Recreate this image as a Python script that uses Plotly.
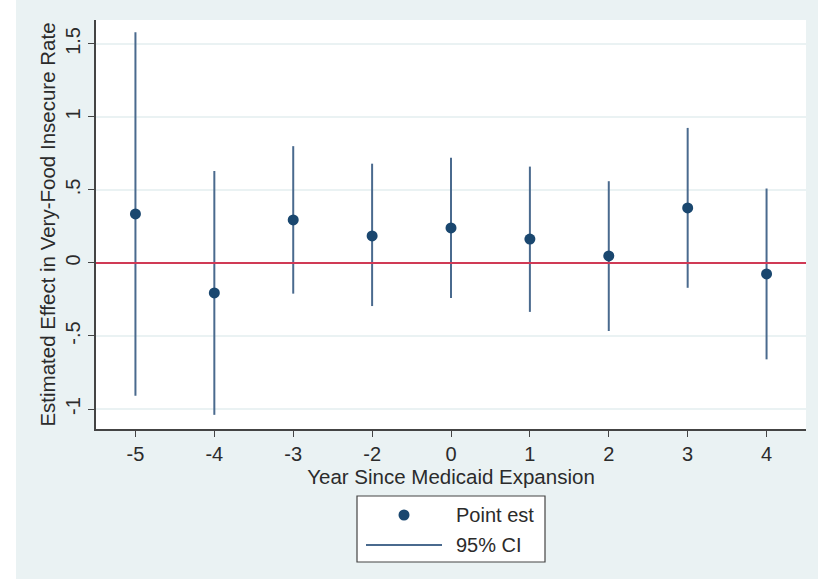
import plotly.graph_objects as go

years = ["-5", "-4", "-3", "-2", "0", "1", "2", "3", "4"]
point_est = [0.336, -0.205, 0.295, 0.185, 0.240, 0.164, 0.048, 0.377, -0.075]
ci_low = [-0.91, -1.04, -0.21, -0.295, -0.24, -0.335, -0.466, -0.17, -0.66]
ci_high = [1.58, 0.63, 0.80, 0.68, 0.72, 0.66, 0.56, 0.925, 0.51]

ytick_vals = [-1, -0.5, 0, 0.5, 1, 1.5]
ytick_text = ["-1", "-.5", "0", ".5", "1", "1.5"]

legend_labels = ["Point est", "95% CI"]
x_title = "Year Since Medicaid Expansion"
y_title = "Estimated Effect in Very-Food Insecure Rate"

NAVY = "#1A476F"
CI_COL = "#4A6A8E"
BG = "#EAF2F3"
TXT = "#2b2b2b"
FONT = "Arial, Liberation Sans, Helvetica, sans-serif"

# plot area in pixels: x 96..806, y 20..429
PL, PR, PT, PB = 96, 806, 20, 429


def px(x):
    return (x - PL) / (PR - PL)


def py(y):
    return (PB - y) / (PB - PT)


ci_x, ci_y = [], []
for yr, lo, hi in zip(years, ci_low, ci_high):
    ci_x += [yr, yr, None]
    ci_y += [lo, hi, None]

fig = go.Figure()
fig.add_trace(go.Scatter(
    x=ci_x, y=ci_y, mode="lines", name=legend_labels[1],
    line=dict(color=CI_COL, width=2), showlegend=False,
))
fig.add_trace(go.Scatter(
    x=years, y=point_est, mode="markers", name=legend_labels[0],
    marker=dict(color=NAVY, size=11), showlegend=False,
))

shapes = [
    # zero reference line
    dict(type="line", xref="paper", yref="y", x0=0, x1=1, y0=0, y1=0,
         line=dict(color="#D03A55", width=2), layer="above"),
    # white strip at far left of the image
    dict(type="rect", xref="paper", yref="paper",
         x0=px(0), x1=px(16), y0=py(579), y1=py(0),
         fillcolor="white", line=dict(width=0), layer="below"),
    # legend box
    dict(type="rect", xref="paper", yref="paper",
         x0=px(357), x1=px(545), y0=py(562), y1=py(496),
         fillcolor="white", line=dict(color="#444444", width=1.2), layer="above"),
    # legend marker
    dict(type="circle", xref="paper", yref="paper",
         x0=px(398.5), x1=px(409.5), y0=py(520.5), y1=py(509.5),
         fillcolor=NAVY, line=dict(width=0), layer="above"),
    # legend line
    dict(type="line", xref="paper", yref="paper",
         x0=px(366), x1=px(442), y0=py(545), y1=py(545),
         line=dict(color=CI_COL, width=2), layer="above"),
]
annotations = [
    dict(text=legend_labels[0], xref="paper", yref="paper", x=px(454), y=py(515),
         xanchor="left", yanchor="middle", showarrow=False, font=dict(size=20)),
    dict(text=legend_labels[1], xref="paper", yref="paper", x=px(454), y=py(545),
         xanchor="left", yanchor="middle", showarrow=False, font=dict(size=20)),
]

fig.update_layout(
    width=818, height=579,
    margin=dict(l=PL, r=818 - PR, t=PT, b=579 - PB),
    paper_bgcolor=BG, plot_bgcolor="white",
    font=dict(family=FONT, size=20, color=TXT),
    showlegend=False,
    shapes=shapes, annotations=annotations,
)
fig.update_xaxes(
    type="category", categoryorder="array", categoryarray=years,
    range=[-0.5, 8.5],
    showline=True, linecolor="#444444", linewidth=1.5,
    ticks="outside", ticklen=6, tickcolor="#444444",
    showgrid=False, zeroline=False,
    title=dict(text=x_title, standoff=0, font=dict(size=20.5)),
    tickfont=dict(size=20),
)
fig.update_yaxes(
    range=[-1.137, 1.664],
    tickvals=ytick_vals, ticktext=ytick_text, tickangle=-90,
    showline=True, linecolor="#444444", linewidth=1.5,
    ticks="outside", ticklen=6, tickcolor="#444444",
    showgrid=True, gridcolor=BG, gridwidth=1.5, zeroline=False,
    title=dict(text=y_title, standoff=1, font=dict(size=20.5)),
    tickfont=dict(size=20),
)

fig.write_html("out.html")
